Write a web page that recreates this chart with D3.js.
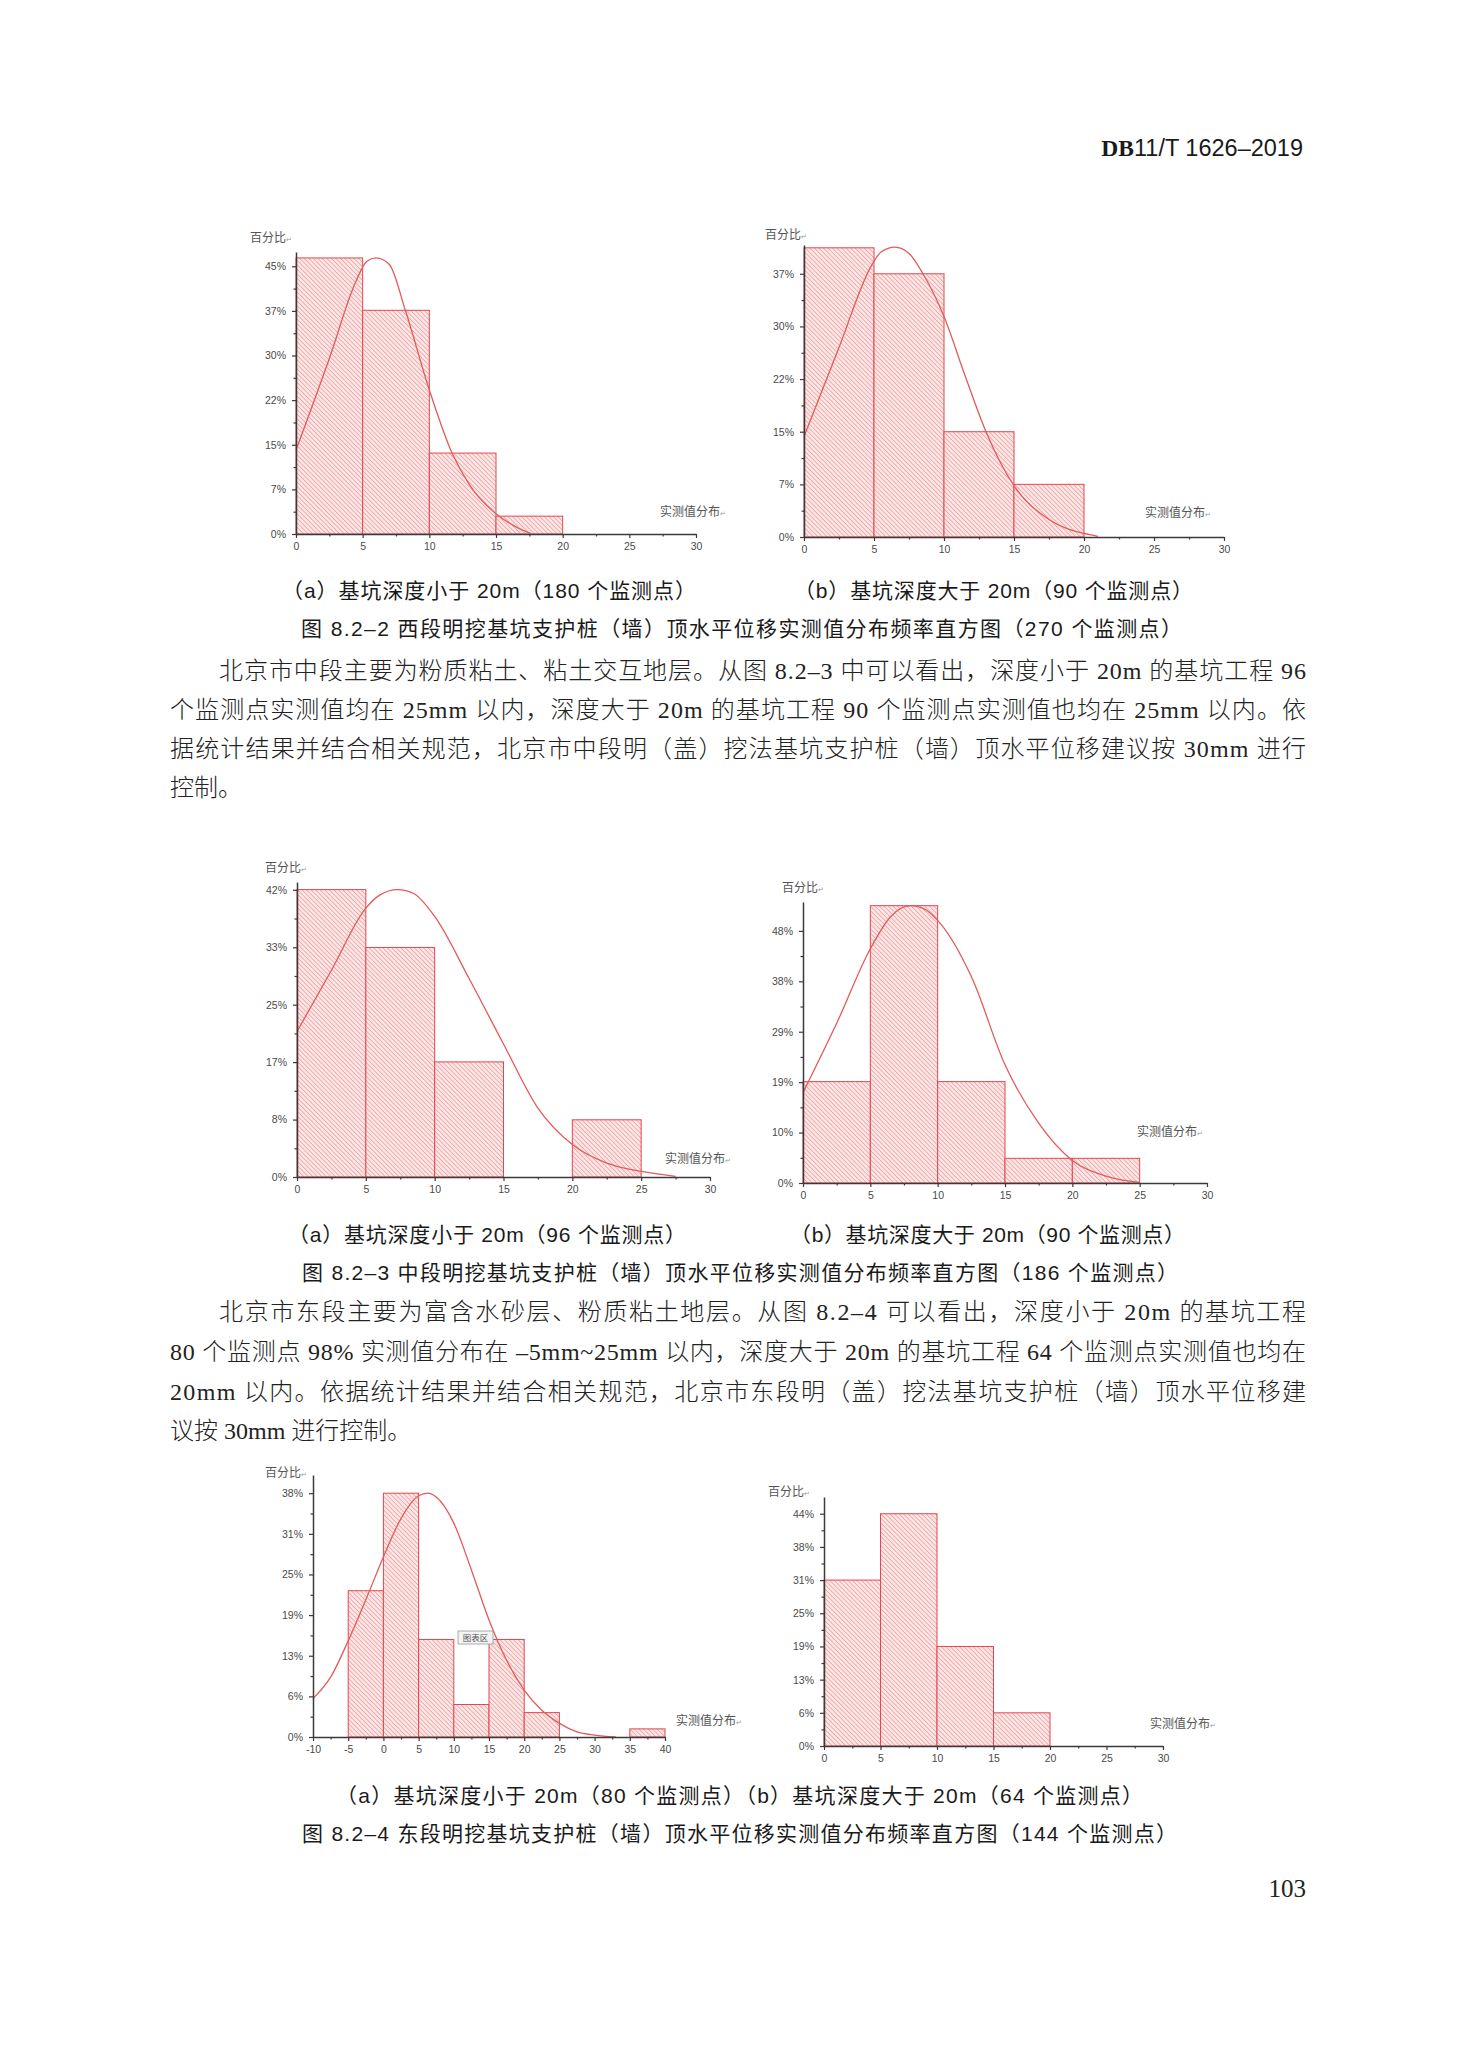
<!DOCTYPE html>
<html>
<head>
<meta charset="utf-8">
<script src="https://cdn.jsdelivr.net/npm/d3@7"></script>
<style>
  body { margin: 0; background: #fff; }
  .tick text { font-family: 'Liberation Sans', sans-serif; font-size: 10.5px; fill: #4a4a4a; }
  .tick line, .domain { stroke: #3a3a3a; }
  .domain { stroke-width: 1.5; }
  .body { font-family: 'Liberation Serif', 'Noto Sans CJK SC', serif; font-size: 24px; font-weight: 300; fill: #222; }
  .cap { font-family: 'Liberation Sans', 'Noto Sans CJK SC', sans-serif; font-size: 21px; font-weight: 400; fill: #1a1a1a; }
  .lab { font-family: 'Noto Sans CJK SC', serif; font-size: 12px; fill: #555; }
</style>
</head>
<body>
<svg id="page" width="1460" height="2048"></svg>
<script>
// ---------- data ----------
const xTicks30 = [0, 5, 10, 15, 20, 25, 30]
const xTicks40 = [-10, -5, 0, 5, 10, 15, 20, 25, 30, 35, 40]

// 图 8.2-2 (a) 180 个监测点
const edges1a = [0, 5, 10, 15, 20]
const pct1a = [46.4, 37.6, 13.6, 3.0]
const curveX1a = [0, 2.5, 4.5, 5.3, 6, 7, 8.2, 10, 11.7, 13, 15, 16.5, 17.6]
const curveY1a = [14.1, 29.5, 42.5, 45.8, 46.4, 45.3, 37.6, 24.2, 13.6, 8.3, 3.4, 1.2, 0.1]
const yTicks1a = [0, 7.5, 15, 22.5, 30, 37.5, 45]
const yLabels1a = ['0%', '7%', '15%', '22%', '30%', '37%', '45%']

// 图 8.2-2 (b) 90 个监测点
const edges1b = [0, 5, 10, 15, 20]
const pct1b = [41.2, 37.5, 15.0, 7.5]
const curveX1b = [0, 2.5, 4.8, 5.5, 6.5, 7.5, 8.5, 10, 11.5, 13, 15, 17.5, 20, 21]
const curveY1b = [14.3, 27, 38.6, 40.6, 41.3, 40.4, 37.5, 31.4, 23, 15, 7.3, 2.5, 0.5, 0.1]
const yTicks1b = [0, 7.5, 15, 22.5, 30, 37.5]
const yLabels1b = ['0%', '7%', '15%', '22%', '30%', '37%']

// 图 8.2-3 (a) 96 个监测点
const edges2a = [0, 5, 10, 15, 20, 25]
const pct2a = [41.7, 33.3, 16.7, 0, 8.3]
const curveX2a = [0, 2.5, 5, 6, 7.3, 8.5, 10, 12.5, 15, 17.5, 20, 22.5, 25, 27.5]
const curveY2a = [21.1, 30, 39, 40.9, 41.7, 41.1, 37.8, 28.8, 19.3, 10, 4.7, 2, 0.8, 0.1]
const yTicks2a = [0, 8.33, 16.67, 25, 33.33, 41.67]
const yLabels2a = ['0%', '8%', '17%', '25%', '33%', '42%']

// 图 8.2-3 (b) 90 个监测点
const edges2b = [0, 5, 10, 15, 20, 25]
const pct2b = [19.3, 52.8, 19.3, 4.7, 4.7]
const curveX2b = [0, 2.5, 5, 6.5, 8, 9, 10, 12.5, 15, 17.5, 20, 22.5, 25]
const curveY2b = [17.2, 30.4, 44.6, 50.7, 52.8, 52.2, 50, 39.3, 22.5, 11.4, 4.3, 1.3, 0.1]
const yTicks2b = [0, 9.6, 19.2, 28.8, 38.4, 48]
const yLabels2b = ['0%', '10%', '19%', '29%', '38%', '48%']

// 图 8.2-4 (a) 80 个监测点
const edges3a = [-5, 0, 5, 10, 15, 20, 25, 30, 35, 40]
const pct3a = [22.5, 37.5, 15, 5, 15, 3.75, 0, 0, 1.25]
const curveX3a = [-10, -7.5, -5, -2.5, 0, 2.5, 5, 6.3, 7.5, 10, 12.5, 15, 17.5, 20, 22.5, 25, 27.5, 30, 33]
const curveY3a = [5.9, 9.2, 14.8, 21.1, 27.7, 33.6, 37.1, 37.5, 36.9, 32.9, 25.7, 18, 11.8, 7.2, 4.1, 2.1, 0.8, 0.3, 0]
const yTicks3a = [0, 6.25, 12.5, 18.75, 25, 31.25, 37.5]
const yLabels3a = ['0%', '6%', '13%', '19%', '25%', '31%', '38%']

// 图 8.2-4 (b) 64 个监测点
const edges3b = [0, 5, 10, 15, 20]
const pct3b = [31.25, 43.75, 18.75, 6.25]
const yTicks3b = [0, 6.25, 12.5, 18.75, 25, 31.25, 37.5, 43.75]
const yLabels3b = ['0%', '6%', '13%', '19%', '25%', '31%', '38%', '44%']

// ---------- text ----------
const header = ['DB', '11/T 1626\u20132019']
const pageNo = '103'
const caps1 = ['（a）基坑深度小于 20m（180 个监测点）', '（b）基坑深度大于 20m（90 个监测点）']
const title1 = '图 8.2\u20132 西段明挖基坑支护桩（墙）顶水平位移实测值分布频率直方图（270 个监测点）'
const para1 = [
  '北京市中段主要为粉质粘土、粘土交互地层。从图 8.2\u20133 中可以看出，深度小于 20m 的基坑工程 96',
  '个监测点实测值均在 25mm 以内，深度大于 20m 的基坑工程 90 个监测点实测值也均在 25mm 以内。依',
  '据统计结果并结合相关规范，北京市中段明（盖）挖法基坑支护桩（墙）顶水平位移建议按 30mm 进行',
  '控制。'
]
const caps2 = ['（a）基坑深度小于 20m（96 个监测点）', '（b）基坑深度大于 20m（90 个监测点）']
const title2 = '图 8.2\u20133 中段明挖基坑支护桩（墙）顶水平位移实测值分布频率直方图（186 个监测点）'
const para2 = [
  '北京市东段主要为富含水砂层、粉质粘土地层。从图 8.2\u20134 可以看出，深度小于 20m 的基坑工程',
  '80 个监测点 98% 实测值分布在 \u20135mm~25mm 以内，深度大于 20m 的基坑工程 64 个监测点实测值也均在',
  '20mm 以内。依据统计结果并结合相关规范，北京市东段明（盖）挖法基坑支护桩（墙）顶水平位移建',
  '议按 30mm 进行控制。'
]
const caps3 = '（a）基坑深度小于 20m（80 个监测点）（b）基坑深度大于 20m（64 个监测点）'
const title3 = '图 8.2\u20134 东段明挖基坑支护桩（墙）顶水平位移实测值分布频率直方图（144 个监测点）'
const yName = '百分比'
const xName = '实测值分布'

// ---------- layout ----------
const layout = {
  c1a: {left: 296, right: 696, bottom: 534, top: 252, yMax: 47.4, yName: [250, 242], xName: [660, 516]},
  c1b: {left: 804, right: 1224, bottom: 537, top: 245, yMax: 41.6, yName: [765, 239], xName: [1145, 517]},
  c2a: {left: 297, right: 710, bottom: 1177, top: 882, yMax: 42.8, yName: [265, 872], xName: [665, 1163]},
  c2b: {left: 803, right: 1207, bottom: 1183, top: 902, yMax: 53.5, yName: [782, 892], xName: [1137, 1136]},
  c3a: {left: 313, right: 665, bottom: 1737, top: 1475, yMax: 40.3, yName: [265, 1477], xName: [676, 1725], tip: [458, 1631]},
  c3b: {left: 824, right: 1163, bottom: 1746, top: 1497, yMax: 46.9, yName: [768, 1496], xName: [1150, 1728]}
}

const svg = d3.select('#page')
svg.append('rect').attr('width', 1460).attr('height', 2048).attr('fill', '#fff')

const defs = svg.append('defs')
const hatch = defs.append('pattern')
  .attr('id', 'hatch')
  .attr('width', 3.2).attr('height', 3.2)
  .attr('patternUnits', 'userSpaceOnUse')
  .attr('patternTransform', 'rotate(-45)')
hatch.append('rect').attr('width', 3.2).attr('height', 3.2).attr('fill', '#fce6e6')
hatch.append('line').attr('x1', 0).attr('y1', 0).attr('x2', 0).attr('y2', 3.2)
  .attr('stroke', '#e67a7a').attr('stroke-width', 1)

function mids (arr) {
  return d3.pairs(arr).map(([a, b]) => (a + b) / 2)
}

function drawChart (cfg, d) {
  const x = d3.scaleLinear().domain(d3.extent(d.xTicks)).range([cfg.left, cfg.right])
  const y = d3.scaleLinear().domain([0, cfg.yMax]).range([cfg.bottom, cfg.top])
  const g = svg.append('g')

  const bins = d3.pairs(d.edges).map(([a, b], i) => ({x0: a, x1: b, v: d.pct[i]}))
    .filter(b => b.v > 0)

  g.selectAll('rect.bar').data(bins).join('rect')
    .attr('class', 'bar')
    .attr('x', b => x(b.x0))
    .attr('y', b => y(b.v))
    .attr('width', b => x(b.x1) - x(b.x0))
    .attr('height', b => y(0) - y(b.v))
    .attr('fill', 'url(#hatch)')
    .attr('stroke', '#e4474f')
    .attr('stroke-width', 1)

  if (d.curveX) {
    const pts = d.curveX.map((v, i) => [v, d.curveY[i]])
    g.append('path')
      .datum(pts)
      .attr('fill', 'none')
      .attr('stroke', '#e35a5a')
      .attr('stroke-width', 1.3)
      .attr('d', d3.line().x(p => x(p[0])).y(p => y(p[1])).curve(d3.curveMonotoneX))
  }

  // minor ticks
  g.append('g').attr('transform', `translate(0,${cfg.bottom})`)
    .call(d3.axisBottom(x).tickValues(mids(d.xTicks)).tickSize(2.5).tickSizeOuter(0).tickFormat(''))
    .call(s => s.select('.domain').remove())
  g.append('g').attr('transform', `translate(${cfg.left},0)`)
    .call(d3.axisLeft(y).tickValues(mids(d.yTicks)).tickSize(2.5).tickSizeOuter(0).tickFormat(''))
    .call(s => s.select('.domain').remove())

  // major axes
  g.append('g').attr('transform', `translate(0,${cfg.bottom})`)
    .call(d3.axisBottom(x).tickValues(d.xTicks).tickSize(4).tickSizeOuter(0).tickPadding(5)
      .tickFormat(v => String(v)))
  g.append('g').attr('transform', `translate(${cfg.left},0)`)
    .call(d3.axisLeft(y).tickValues(d.yTicks).tickSize(4).tickSizeOuter(0).tickPadding(6)
      .tickFormat((v, i) => d.yLabels[i]))
  g.selectAll('.tick line').attr('stroke-width', 1.2)

  const yl = g.append('text').attr('class', 'lab').attr('x', cfg.yName[0]).attr('y', cfg.yName[1]).text(yName)
  yl.append('tspan').attr('font-size', 7).attr('fill', '#999').text('\u21b5')
  const xl = g.append('text').attr('class', 'lab').attr('x', cfg.xName[0]).attr('y', cfg.xName[1]).text(xName)
  xl.append('tspan').attr('font-size', 7).attr('fill', '#999').text('\u21b5')

  if (cfg.tip) {
    g.append('rect').attr('x', cfg.tip[0]).attr('y', cfg.tip[1]).attr('width', 35).attr('height', 13)
      .attr('fill', '#f3f3f3').attr('stroke', '#9a9a9a').attr('stroke-width', 0.8)
    g.append('text').attr('x', cfg.tip[0] + 17.5).attr('y', cfg.tip[1] + 10)
      .attr('text-anchor', 'middle').attr('font-size', 8.5).attr('fill', '#555')
      .attr('font-family', 'Noto Sans CJK SC').text('图表区')
  }
}

drawChart(layout.c1a, {edges: edges1a, pct: pct1a, curveX: curveX1a, curveY: curveY1a, xTicks: xTicks30, yTicks: yTicks1a, yLabels: yLabels1a})
drawChart(layout.c1b, {edges: edges1b, pct: pct1b, curveX: curveX1b, curveY: curveY1b, xTicks: xTicks30, yTicks: yTicks1b, yLabels: yLabels1b})
drawChart(layout.c2a, {edges: edges2a, pct: pct2a, curveX: curveX2a, curveY: curveY2a, xTicks: xTicks30, yTicks: yTicks2a, yLabels: yLabels2a})
drawChart(layout.c2b, {edges: edges2b, pct: pct2b, curveX: curveX2b, curveY: curveY2b, xTicks: xTicks30, yTicks: yTicks2b, yLabels: yLabels2b})
drawChart(layout.c3a, {edges: edges3a, pct: pct3a, curveX: curveX3a, curveY: curveY3a, xTicks: xTicks40, yTicks: yTicks3a, yLabels: yLabels3a})
drawChart(layout.c3b, {edges: edges3b, pct: pct3b, xTicks: xTicks30, yTicks: yTicks3b, yLabels: yLabels3b})

// ---------- page text ----------
function line (cls, x, y, str, width) {
  const t = svg.append('text').attr('class', cls).attr('x', x).attr('y', y).text(str)
  if (width) t.attr('textLength', width).attr('lengthAdjust', 'spacing')
  return t
}

const hd = svg.append('text').attr('x', 1303).attr('y', 156).attr('text-anchor', 'end')
  .attr('font-size', 23.5).attr('fill', '#1a1a1a')
hd.append('tspan').attr('font-family', 'Liberation Serif').attr('font-weight', 'bold').text(header[0])
hd.append('tspan').attr('font-family', 'Liberation Sans').text(header[1])

line('cap', 282, 598, caps1[0], 414)
line('cap', 794, 598, caps1[1], 399)
line('cap', 301, 636, title1, 881)

const textLeft = 170, textRight = 1306, indent = 219
const para1Y = [679, 718, 757, 796]
para1.forEach((s, i) => {
  const x0 = i === 0 ? indent : textLeft
  line('body', x0, para1Y[i], s, i < para1.length - 1 ? textRight - x0 : null)
})

line('cap', 288, 1242, caps2[0], 398)
line('cap', 790, 1242, caps2[1], 395)
line('cap', 302, 1280, title2, 876)

const para2Y = [1320, 1360, 1400, 1439]
para2.forEach((s, i) => {
  const x0 = i === 0 ? indent : textLeft
  line('body', x0, para2Y[i], s, i < para2.length - 1 ? textRight - x0 : null)
})

line('cap', 336, 1803, caps3, 807)
line('cap', 302, 1841, title3, 875)

svg.append('text').attr('x', 1306).attr('y', 1897).attr('text-anchor', 'end')
  .attr('font-family', 'Liberation Serif').attr('font-size', 25).attr('fill', '#222').text(pageNo)
</script>
</body>
</html>
